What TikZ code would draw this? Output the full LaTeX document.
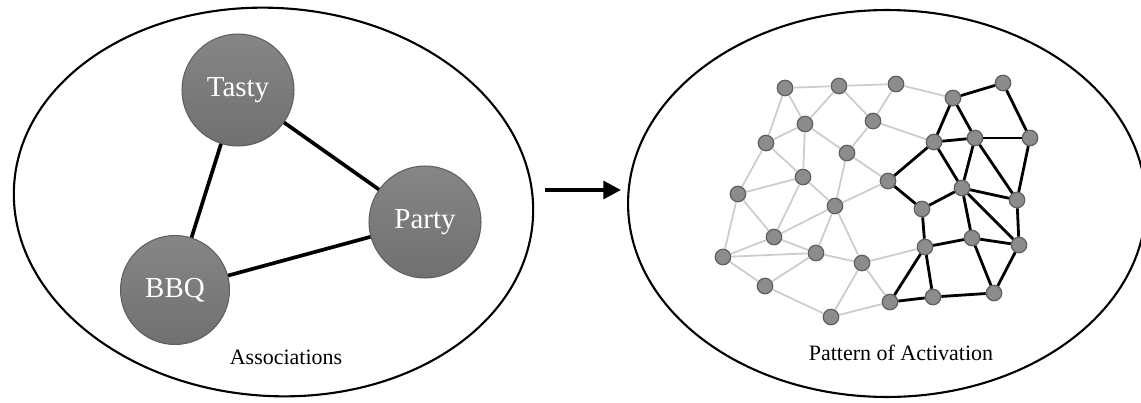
\documentclass[tikz,border=0pt]{standalone}
\usepackage{fontspec}
\setmainfont{Liberation Serif}
\usetikzlibrary{arrows.meta}
\definecolor{unitgray}{RGB}{140,140,140}
\definecolor{rimgray}{RGB}{95,95,95}
\definecolor{bubbletop}{RGB}{134,134,134}
\definecolor{bubblebottom}{RGB}{112,112,112}
\definecolor{linkgray}{RGB}{204,204,204}
\tikzset{
  bubble/.style={circle, draw=rimgray, line width=0.6pt, top color=bubbletop, bottom color=bubblebottom,
    text=white, minimum size=2.24cm, inner sep=0pt, font=\fontsize{16.5}{18}\selectfont},
  unit/.style={circle, draw=rimgray, line width=0.7pt, fill=unitgray,
    minimum size=0.31cm, inner sep=0pt},
  weak/.style={draw=linkgray, line width=1pt},
  strong/.style={draw=black, line width=1.6pt},
  caption/.style={font=\fontsize{12.5}{14}\selectfont}
}
\begin{document}
\begin{tikzpicture}[x=0.02cm, y=-0.02cm]
        \useasboundingbox (0,0) rectangle (1141,402);

        \draw[line width=1.2pt, rotate around={-4:(273.5,202)}] (273.5,202) ellipse [x radius=5.2cm, y radius=3.88cm];
        \draw[line width=1.2pt] (887,203.5) ellipse [x radius=5.18cm, y radius=3.87cm];

        % associations
        \node[bubble] (tasty) at (238,90) {Tasty};
        \node[bubble] (party) at (425,222) {Party};
        \node[bubble, minimum size=2.18cm] (bbq) at (175,290) {BBQ};
        \draw[line width=2.1pt] (tasty) -- (party);
        \draw[line width=2.1pt] (tasty) -- (bbq);
        \draw[line width=2.1pt] (bbq) -- (party);
        \node[caption] (assoc) at (286,357) {Associations};

        \coordinate (arrowtail) at (545,190);
        \coordinate (arrowhead) at (621,190);
        \draw[line width=2.3pt, -{Triangle[length=10pt, width=10pt]}] (arrowtail) -- (arrowhead);

        % pattern of activation
        \foreach \name/\px/\py in {a1/785/88, a2/839/86, a3/896/84, a4/953/98, a5/1003/83,
            b1/805/124, b2/873/121, b3/766/143, b4/847/153, b5/934/142, b6/975/138, b7/1030/138,
            c1/803/177, c2/888/181, c3/738/194, c4/962/188, c5/1017/200, c6/835/206, c7/922/209,
            d1/774/237, d2/972/238, d3/723/257, d4/816/253, d5/862/263, d6/925/247, d7/1019/245,
            e1/765/286, e2/890/302, e3/933/297, e4/994/293, e5/831/317}
          \node[unit] (\name) at (\px,\py) {};

        \foreach \u/\v in {a1/a2, a2/a3, a1/b1, a1/b3, a2/b1, a2/b2, a3/a4, a3/b2, b1/b3, b1/c1,
            b1/b4, b2/b4, b2/b5, b3/c1, b3/c3, c1/c3, b4/c6, b4/c2, c1/c6, c1/d1, c6/c2, c3/d1,
            c3/d3, c6/d1, c6/d4, c6/d5, d1/d3, d1/d4, d3/d4, d3/e1, d4/e1, d4/d5, e1/e5, d5/e5,
            e5/e2, d5/e2, d5/d6}
          \draw[weak] (\u) -- (\v);

        \foreach \u/\v in {a4/a5, a4/b5, a4/b6, a5/b7, b5/b6, b6/b7, b5/c2, b5/c4, b6/c4, b6/c5,
            b7/c5, c2/c7, c4/c5, c4/c7, c7/d6, c4/d2, c4/d7, c5/d7, d2/d6, d2/d7, d2/e4, d7/e4,
            d6/e2, d6/e3, e2/e3, e3/e4}
          \draw[strong] (\u) -- (\v);

        \node[caption] (pattern) at (901,353) {Pattern of Activation};
\end{tikzpicture}
\end{document}
